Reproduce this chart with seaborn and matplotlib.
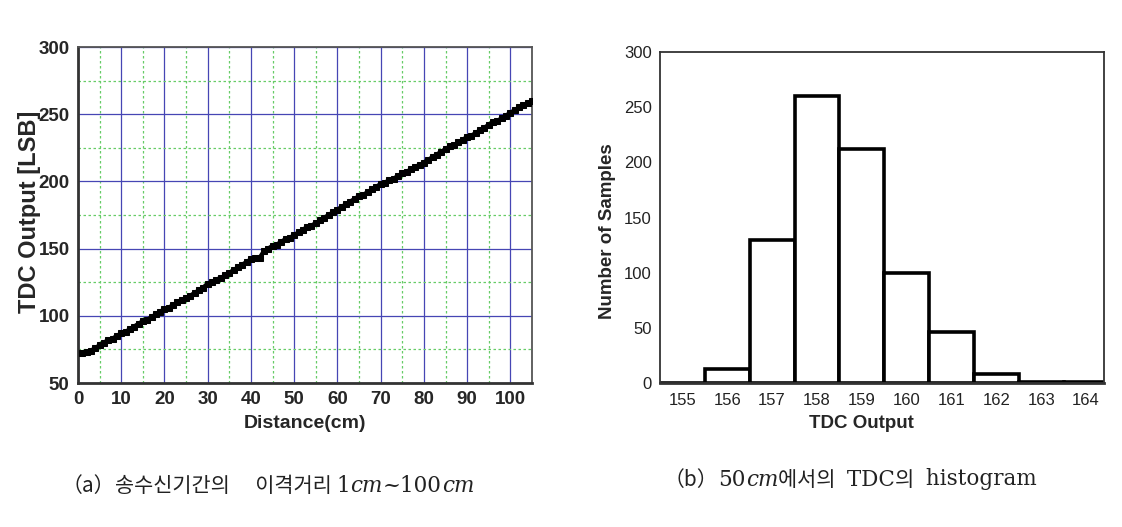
import matplotlib
matplotlib.use("Agg")
import matplotlib.pyplot as plt
from matplotlib.ticker import MultipleLocator
import seaborn as sns
import pandas as pd

# ---- data ----
distance_cm = list(range(1, 106))
tdc_lsb = [72, 73, 74, 76, 78, 80, 82, 83, 85, 87,
           88, 90, 92, 94, 96, 97, 99, 101, 103, 105,
           106, 108, 110, 112, 113, 115, 117, 119, 121, 124,
           125, 127, 128, 130, 132, 134, 136, 138, 140, 142,
           143, 143, 148, 150, 152, 153, 155, 157, 158, 160,
           162, 164, 166, 167, 169, 171, 173, 175, 177, 179,
           181, 183, 185, 187, 189, 190, 192, 194, 196, 198,
           199, 201, 202, 204, 206, 207, 209, 211, 212, 214,
           216, 218, 220, 222, 224, 226, 227, 229, 231, 233,
           234, 236, 238, 240, 242, 244, 245, 247, 249, 251,
           253, 255, 257, 258, 260]

hist_bins = [155, 156, 157, 158, 159, 160, 161, 162, 163, 164]
hist_counts = [0, 13, 130, 260, 212, 100, 46, 8, 1, 1]

# caption pieces: (text, style)
caption_a = [("（a）", "cjk"), ("송수신기간의　 이격거리 ", "cjk"), ("1", "serif"),
             ("cm", "italic"), ("~100", "serif"), ("cm", "italic")]
caption_b = [("（b）", "cjk"), ("50", "serif"), ("cm", "italic"),
             ("에서의 ", "cjk"), (" TDC", "serif"), ("의 ", "cjk"), (" histogram", "serif")]

sns.set_style("white")
plt.rcParams["font.family"] = ["Liberation Sans", "DejaVu Sans"]

fig = plt.figure(figsize=(11.22, 5.27), dpi=100)
W, H = 1122, 527

def axrect(l, t, r, b):
    return [l / W, 1 - b / H, (r - l) / W, (b - t) / H]

# ---- left: distance vs TDC output ----
ax1 = fig.add_axes(axrect(78, 47, 532, 383))
df1 = pd.DataFrame({"d": distance_cm, "t": tdc_lsb})
sns.lineplot(data=df1, x="d", y="t", ax=ax1, color="black", linewidth=3.2,
             marker="s", markersize=4.5, markeredgecolor="black", zorder=5)
ax1.set_xlim(0, 105)
ax1.set_ylim(50, 300)
ax1.xaxis.set_major_locator(MultipleLocator(10))
ax1.xaxis.set_minor_locator(MultipleLocator(5))
ax1.yaxis.set_major_locator(MultipleLocator(50))
ax1.yaxis.set_minor_locator(MultipleLocator(25))
ax1.grid(which="major", color="#4646b4", linewidth=0.9, linestyle="-")
ax1.grid(which="minor", color="#66cc66", linewidth=0.9, linestyle=(0, (2, 2)))
ax1.set_axisbelow(True)
ax1.tick_params(which="both", direction="in", color="black", pad=6)
ax1.tick_params(which="major", length=5, width=1.2)
ax1.tick_params(which="minor", length=3, width=1.0)
for lab in ax1.get_xticklabels() + ax1.get_yticklabels():
    lab.set_fontweight("bold")
    lab.set_fontsize(13.5)
ax1.set_xlabel("Distance(cm)", fontsize=14, fontweight="bold")
ax1.set_ylabel("TDC Output [LSB]", fontsize=17, fontweight="bold")
ax1.xaxis.set_label_coords(0.5, -0.095)
ax1.yaxis.set_label_coords(-0.082, 0.51)
for s in ["left", "bottom"]:
    ax1.spines[s].set_linewidth(2)
    ax1.spines[s].set_color("#333333")
for s in ["top", "right"]:
    ax1.spines[s].set_linewidth(1.3)
    ax1.spines[s].set_color("#555555")

# ---- right: histogram ----
ax2 = fig.add_axes(axrect(660, 52, 1104, 383))
sns.histplot(x=hist_bins, weights=hist_counts, discrete=True, ax=ax2,
             color="white", edgecolor="black", linewidth=2.6, alpha=1)
ax2.set_xlim(154.5, 164.4)
ax2.set_ylim(0, 300)
ax2.xaxis.set_major_locator(MultipleLocator(1))
ax2.yaxis.set_major_locator(MultipleLocator(50))
ax2.yaxis.set_minor_locator(MultipleLocator(25))
ax2.tick_params(which="both", direction="in", color="#222222")
ax2.tick_params(which="major", length=5, width=1.0, labelsize=12,
                labelcolor="#222222")
ax2.tick_params(axis="x", which="major", pad=7)
ax2.tick_params(axis="y", which="major", pad=6)
ax2.tick_params(which="minor", length=3, width=1.0)
ax2.tick_params(axis="x", which="minor", length=0)
ax2.set_xlabel("TDC Output", fontsize=13.5, fontweight="bold")
ax2.set_ylabel("Number of Samples", fontsize=13.5, fontweight="bold")
ax2.xaxis.set_label_coords((861 - 660) / 444, -0.098)
ax2.yaxis.set_label_coords(-0.1, 0.46)
for s in ax2.spines.values():
    s.set_linewidth(1.3)
    s.set_color("#333333")
ax2.spines["bottom"].set_linewidth(2)

# ---- captions ----
styles = {
    "cjk": dict(family=["Noto Sans CJK KR"], fontsize=15),
    "serif": dict(family=["DejaVu Serif"], fontsize=15.5),
    "italic": dict(family=["DejaVu Serif"], style="italic", fontsize=15.5),
}

def draw_caption(pieces, cx, cy):
    renderer = fig.canvas.get_renderer()
    texts = []
    for txt, st in pieces:
        t = fig.text(0, 1 - cy / H, txt, ha="left", va="center_baseline",
                     color="#222222", **styles[st])
        texts.append(t)
    widths = [t.get_window_extent(renderer).width for t in texts]
    x = cx - sum(widths) / 2
    for t, w in zip(texts, widths):
        t.set_x(x / W)
        x += w

draw_caption(caption_a, 268, 483)
draw_caption(caption_b, 850, 477)

fig.savefig("out.png", dpi=100)
